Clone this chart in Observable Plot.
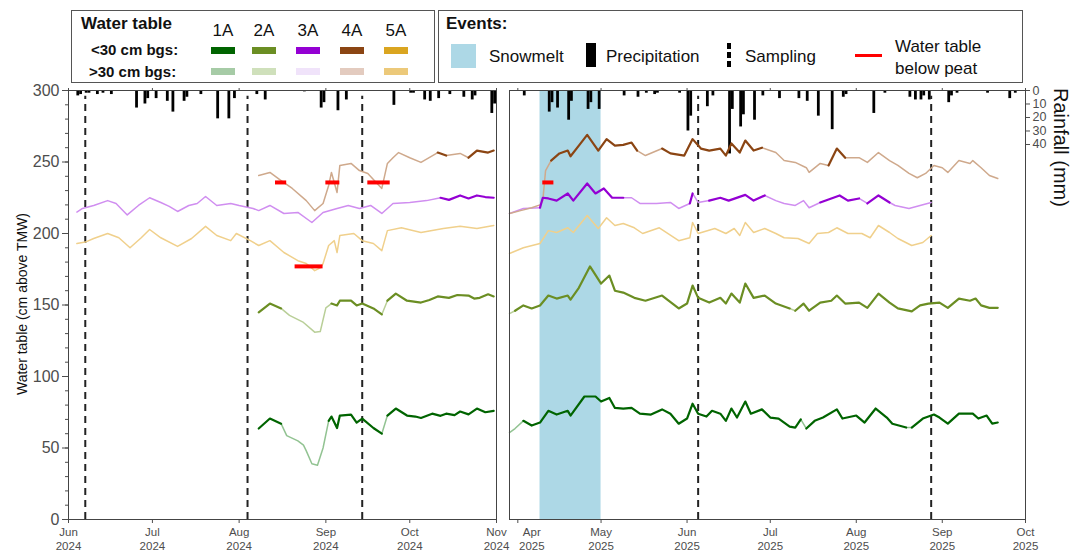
<!DOCTYPE html>
<html><head><meta charset="utf-8">
<script src="https://cdn.jsdelivr.net/npm/d3@7"></script>
<script src="https://cdn.jsdelivr.net/npm/@observablehq/plot@0.6"></script>
<style>
body{margin:0;width:1072px;height:553px;position:relative;background:#fff;overflow:hidden;font-family:"Liberation Sans",Arial,sans-serif;color:#111}
.a{position:absolute;white-space:nowrap;line-height:1}
.box{position:absolute;border:1.5px solid #555;box-sizing:border-box}
svg{overflow:visible}
.b{font-weight:bold}
</style></head><body>
<div class="box" style="left:71px;top:10px;width:364px;height:73px"></div>
<div class="a b" style="left:81px;top:15px;font-size:17px">Water table</div>
<div class="a b" style="left:91px;top:42px;font-size:15px">&lt;30 cm bgs:</div>
<div class="a b" style="left:89px;top:64px;font-size:15px">&gt;30 cm bgs:</div>
<div id="leg1"></div>
<div class="box" style="left:438px;top:10px;width:585px;height:73px"></div>
<div class="a b" style="left:446px;top:15px;font-size:17px">Events:</div>
<div class="a" style="left:451px;top:44px;width:25px;height:24px;background:#add8e6"></div>
<div class="a" style="left:489px;top:48px;font-size:17px">Snowmelt</div>
<div class="a" style="left:586px;top:43px;width:10px;height:24px;background:#000"></div>
<div class="a" style="left:606px;top:48px;font-size:17px">Precipitation</div>
<div class="a" style="left:727px;top:43px;width:4px;height:6px;background:#000"></div>
<div class="a" style="left:727px;top:52px;width:4px;height:6px;background:#000"></div>
<div class="a" style="left:727px;top:61px;width:4px;height:6px;background:#000"></div>
<div class="a" style="left:745px;top:48px;font-size:17px">Sampling</div>
<div class="a" style="left:855px;top:54px;width:27px;height:3px;background:#f00"></div>
<div class="a" style="left:895px;top:38px;font-size:17px">Water table</div>
<div class="a" style="left:895px;top:60px;font-size:17px">below peat</div>
<div class="a" style="left:22px;top:304px;font-size:14px;transform:translate(-50%,-50%) rotate(-90deg)">Water table (cm above TMW)</div>
<div class="a" style="left:1051px;top:88px;font-size:20px;writing-mode:vertical-rl">Rainfall (mm)</div>
<div id="left" class="a" style="left:0;top:84px"></div>
<div id="right" class="a" style="left:500px;top:84px"></div>
<script>
// ---------- data ----------
const sites = ["1A","2A","3A","4A","5A"];
const months2024 = ["2024-06-01","2024-07-01","2024-08-01","2024-09-01","2024-10-01","2024-11-01"];
const months2025 = ["2025-04-01","2025-05-01","2025-06-01","2025-07-01","2025-08-01","2025-09-01","2025-10-01"];
const yTicks = [0,50,100,150,200,250,300];
const rainTicks = [0,10,20,30,40];
const sampling2024 = ["2024-06-07","2024-08-04","2024-09-14"];
const sampling2025 = ["2025-06-05","2025-08-28"];
const snowmelt2025 = [["2025-04-09","2025-05-01"]];
const belowPeat2024 = [["2024-08-14","2024-08-18",235.7],["2024-09-01","2024-09-06",235.7],["2024-09-16","2024-09-24",235.7],["2024-08-21","2024-08-31",177]];
const belowPeat2025 = [["2025-04-10","2025-04-14",235.7]];

const rain2024 = [["2024-06-04",4],["2024-06-05",3],["2024-06-07",2],["2024-06-08",2],["2024-06-11",3],["2024-06-13",2],["2024-06-16",3],["2024-06-25",13],["2024-06-28",10],["2024-06-29",6],["2024-07-02",6],["2024-07-06",8],["2024-07-08",16],["2024-07-12",8],["2024-07-13",5],["2024-07-18",3],["2024-07-24",21],["2024-07-28",21],["2024-07-30",6],["2024-08-07",3],["2024-08-10",7],["2024-08-24",1],["2024-08-30",13],["2024-08-31",9],["2024-09-05",15],["2024-09-08",7],["2024-09-25",11],["2024-10-01",2],["2024-10-02",2],["2024-10-06",7],["2024-10-08",8],["2024-10-11",6],["2024-10-15",3],["2024-10-20",5],["2024-10-23",7],["2024-10-24",4],["2024-10-30",17],["2024-10-31",10]];
const rain2025 = [["2025-04-03",4],["2025-04-12",16],["2025-04-13",9],["2025-04-15",13],["2025-04-19",22],["2025-04-20",8],["2025-04-26",14],["2025-04-27",9],["2025-04-30",14],["2025-05-09",4],["2025-05-14",5],["2025-05-17",2],["2025-05-20",3],["2025-05-21",2],["2025-05-29",2],["2025-06-01",30],["2025-06-02",19],["2025-06-08",12],["2025-06-10",4],["2025-06-16",47],["2025-06-17",14],["2025-06-20",27],["2025-06-21",18],["2025-06-25",22],["2025-06-28",4],["2025-07-04",6],["2025-07-11",6],["2025-07-14",8],["2025-07-18",19],["2025-07-23",29],["2025-07-27",5],["2025-07-28",3],["2025-08-07",17],["2025-08-11",2],["2025-08-20",5],["2025-08-22",7],["2025-08-24",7],["2025-08-25",4],["2025-08-27",7],["2025-09-03",9],["2025-09-04",4],["2025-09-06",2],["2025-09-17",2],["2025-09-25",6],["2025-09-27",2]];

const wt2024_1A = [["2024-08-08",63.6],["2024-08-12",70.6],["2024-08-16",67],["2024-08-18",58.7],["2024-08-22",55],["2024-08-24",52],["2024-08-25",48],["2024-08-27",39],["2024-08-29",38],["2024-08-31",50],["2024-09-02",69],["2024-09-03",72],["2024-09-05",64],["2024-09-06",72.7],["2024-09-10",73.4],["2024-09-12",67.8],["2024-09-14",70.6],["2024-09-18",64],["2024-09-21",60],["2024-09-23",72.7],["2024-09-26",77.6],["2024-09-30",72.7],["2024-10-03",72],["2024-10-05",71],["2024-10-09",74],["2024-10-12",72.5],["2024-10-14",74],["2024-10-17",73],["2024-10-19",75.5],["2024-10-22",73.5],["2024-10-25",77.6],["2024-10-28",75],["2024-10-31",76]];
const wt2024_2A = [["2024-08-08",144.8],["2024-08-12",151],["2024-08-16",147.6],["2024-08-19",142.7],["2024-08-24",137.8],["2024-08-28",131],["2024-08-30",131.5],["2024-09-01",148],["2024-09-03",151],["2024-09-05",149.7],["2024-09-06",153],["2024-09-10",153],["2024-09-12",149.7],["2024-09-14",151],["2024-09-18",147.6],["2024-09-21",143.4],["2024-09-23",153],["2024-09-26",158],["2024-09-30",153],["2024-10-05",151.7],["2024-10-08",153.5],["2024-10-11",156],["2024-10-15",155],["2024-10-18",157],["2024-10-22",156.6],["2024-10-24",154.5],["2024-10-26",155],["2024-10-29",157.5],["2024-10-31",156]];
const wt2024_3A = [["2024-06-04",215],["2024-06-06",217.5],["2024-06-10",219.6],["2024-06-15",223],["2024-06-18",221],["2024-06-22",213],["2024-06-26",219.6],["2024-06-30",225],["2024-07-04",221.7],["2024-07-07",219],["2024-07-10",215.4],["2024-07-14",219.6],["2024-07-17",221],["2024-07-20",225.9],["2024-07-24",219.6],["2024-07-29",221],["2024-08-01",219.6],["2024-08-06",217.5],["2024-08-08",216],["2024-08-12",219.6],["2024-08-17",214],["2024-08-22",214.7],["2024-08-27",207.7],["2024-08-31",214.7],["2024-09-05",217.5],["2024-09-09",219.6],["2024-09-13",217.5],["2024-09-17",219.6],["2024-09-21",214],["2024-09-25",221],["2024-10-01",221.7],["2024-10-07",223],["2024-10-12",225],["2024-10-15",223.5],["2024-10-19",226.6],["2024-10-22",224.5],["2024-10-25",226.6],["2024-10-28",225.5],["2024-10-31",225]];
const wt2024_4A = [["2024-08-08",240.6],["2024-08-12",242.7],["2024-08-16",237],["2024-08-20",231.5],["2024-08-25",223],["2024-08-28",216],["2024-08-31",221],["2024-09-02",233.6],["2024-09-03",242.7],["2024-09-05",228.7],["2024-09-06",247.6],["2024-09-10",249],["2024-09-13",244],["2024-09-16",242],["2024-09-19",235.7],["2024-09-21",231.5],["2024-09-23",249],["2024-09-25",253],["2024-09-27",256.6],["2024-10-01",253],["2024-10-05",249.7],["2024-10-11",256.6],["2024-10-14",254.5],["2024-10-19",256],["2024-10-22",253],["2024-10-25",258],["2024-10-29",256.6],["2024-10-31",258]];
const wt2024_5A = [["2024-06-04",193],["2024-06-07",194],["2024-06-10",196.5],["2024-06-15",200],["2024-06-19",197],["2024-06-23",190],["2024-06-27",197],["2024-06-30",202.8],["2024-07-04",197],["2024-07-10",191],["2024-07-15",196.5],["2024-07-20",205],["2024-07-24",198.6],["2024-07-29",195],["2024-07-31",200],["2024-08-05",195],["2024-08-08",191.6],["2024-08-12",195],["2024-08-17",186.7],["2024-08-22",181],["2024-08-25",179],["2024-08-28",174],["2024-08-30",176],["2024-08-31",179],["2024-09-02",191.6],["2024-09-04",195],["2024-09-05",186.7],["2024-09-06",198.6],["2024-09-11",200],["2024-09-14",195],["2024-09-18",193],["2024-09-21",188],["2024-09-23",202],["2024-09-28",204],["2024-10-05",200.7],["2024-10-13",203.5],["2024-10-19",205],["2024-10-25",203.5],["2024-10-31",205.6]];

const wt2025_1A = [["2025-03-29",60.8],["2025-03-31",63.6],["2025-04-03",69],["2025-04-06",65.7],["2025-04-09",67.8],["2025-04-12",76],["2025-04-15",73.4],["2025-04-19",76],["2025-04-20",72.7],["2025-04-25",86],["2025-04-29",86],["2025-05-01",82.5],["2025-05-04",85],["2025-05-06",78],["2025-05-09",77.6],["2025-05-12",78],["2025-05-15",74],["2025-05-19",73.4],["2025-05-23",77],["2025-05-26",74],["2025-05-29",67],["2025-06-01",70.6],["2025-06-03",81],["2025-06-05",74],["2025-06-08",72],["2025-06-10",76],["2025-06-13",74],["2025-06-15",69],["2025-06-17",77.6],["2025-06-19",71.3],["2025-06-22",82.5],["2025-06-24",74],["2025-06-28",77],["2025-07-01",71.3],["2025-07-04",70.6],["2025-07-08",65],["2025-07-10",64.3],["2025-07-12",70],["2025-07-14",63.6],["2025-07-17",69],["2025-07-20",71.3],["2025-07-25",77],["2025-07-27",70.6],["2025-08-01",72.7],["2025-08-04",67.8],["2025-08-08",77.6],["2025-08-12",71.3],["2025-08-14",67],["2025-08-19",64.3],["2025-08-21",64.3],["2025-08-25",70.6],["2025-08-29",73.4],["2025-08-31",71.3],["2025-09-03",67],["2025-09-07",74],["2025-09-09",74],["2025-09-12",74],["2025-09-14",70.6],["2025-09-17",72.7],["2025-09-19",67],["2025-09-21",67.8]];
const wt2025_2A = [["2025-03-29",144],["2025-03-31",146],["2025-04-03",149.7],["2025-04-06",147.6],["2025-04-09",149.7],["2025-04-12",156.6],["2025-04-15",154.5],["2025-04-19",156.6],["2025-04-20",153.8],["2025-04-23",162],["2025-04-27",177],["2025-04-28",174],["2025-05-01",165],["2025-05-04",170.6],["2025-05-06",160],["2025-05-09",158.7],["2025-05-13",155],["2025-05-17",153],["2025-05-23",156.6],["2025-05-29",147.6],["2025-06-01",151],["2025-06-03",163.6],["2025-06-05",155],["2025-06-09",151.7],["2025-06-13",155],["2025-06-15",151],["2025-06-17",158],["2025-06-20",151.7],["2025-06-22",165],["2025-06-25",155],["2025-06-29",156.6],["2025-07-03",151],["2025-07-08",147.6],["2025-07-10",146],["2025-07-13",151],["2025-07-15",146],["2025-07-19",151.7],["2025-07-23",153],["2025-07-25",156.6],["2025-07-28",151],["2025-08-02",151.7],["2025-08-05",148],["2025-08-09",158],["2025-08-13",151.7],["2025-08-16",147.6],["2025-08-21",145.5],["2025-08-24",149.7],["2025-08-27",151],["2025-08-31",151.7],["2025-09-03",148],["2025-09-07",154.5],["2025-09-11",153],["2025-09-13",154.5],["2025-09-15",149.7],["2025-09-18",148],["2025-09-21",148]];
const wt2025_3A = [["2025-03-29",214],["2025-04-03",217.5],["2025-04-09",218],["2025-04-10",225],["2025-04-12",224.5],["2025-04-15",223],["2025-04-19",228],["2025-04-21",223],["2025-04-26",235],["2025-04-29",228],["2025-05-02",231.5],["2025-05-05",225],["2025-05-09",225],["2025-05-12",225],["2025-05-15",221],["2025-05-21",221],["2025-05-26",221.7],["2025-05-29",217.5],["2025-06-02",221],["2025-06-03",228],["2025-06-05",221.7],["2025-06-09",223],["2025-06-13",225],["2025-06-16",223],["2025-06-22",227],["2025-06-25",223],["2025-06-29",226.6],["2025-07-03",223],["2025-07-06",221],["2025-07-10",219.6],["2025-07-13",223],["2025-07-15",218],["2025-07-19",221.7],["2025-07-23",224.5],["2025-07-26",226.6],["2025-07-29",223],["2025-08-02",224.5],["2025-08-05",221],["2025-08-09",226.6],["2025-08-13",221.7],["2025-08-15",219.6],["2025-08-20",217.5],["2025-08-24",219.6],["2025-08-28",221.7]];
const wt2025_4A = [["2025-03-29",214],["2025-04-02",216],["2025-04-06",218],["2025-04-09",220],["2025-04-10",223],["2025-04-11",244],["2025-04-13",251],["2025-04-16",256],["2025-04-19",258],["2025-04-20",254],["2025-04-23",261.5],["2025-04-26",269],["2025-04-30",258],["2025-05-03",266],["2025-05-06",261.5],["2025-05-09",262],["2025-05-12",263.6],["2025-05-14",258],["2025-05-17",254.5],["2025-05-23",259.4],["2025-05-26",256],["2025-05-31",254.5],["2025-06-03",266],["2025-06-06",259.4],["2025-06-09",258],["2025-06-13",259.4],["2025-06-15",254.5],["2025-06-17",263],["2025-06-20",256.6],["2025-06-22",265],["2025-06-25",258],["2025-06-28",260],["2025-07-03",256.6],["2025-07-06",251],["2025-07-10",249.7],["2025-07-14",246],["2025-07-15",242.7],["2025-07-19",249],["2025-07-22",247.6],["2025-07-25",259.4],["2025-07-28",253],["2025-08-02",253],["2025-08-05",249.7],["2025-08-09",256.6],["2025-08-13",251],["2025-08-16",247.6],["2025-08-20",242],["2025-08-23",239],["2025-08-26",242],["2025-08-29",247.6],["2025-09-01",246],["2025-09-03",242.7],["2025-09-07",251],["2025-09-11",249],["2025-09-12",251],["2025-09-15",246],["2025-09-18",240.6],["2025-09-21",238.5]];
const wt2025_5A = [["2025-03-29",186],["2025-04-03",190],["2025-04-09",193],["2025-04-12",202],["2025-04-15",200.7],["2025-04-19",204],["2025-04-21",200.7],["2025-04-26",212.6],["2025-04-30",203.5],["2025-05-03",211],["2025-05-06",205.6],["2025-05-09",207],["2025-05-13",204],["2025-05-16",200],["2025-05-22",204],["2025-05-29",195],["2025-06-02",197],["2025-06-03",207.7],["2025-06-05",200],["2025-06-11",203.5],["2025-06-15",200],["2025-06-18",203.5],["2025-06-20",198.6],["2025-06-22",207.7],["2025-06-25",200.7],["2025-06-29",203.5],["2025-07-03",200],["2025-07-06",197],["2025-07-11",196.5],["2025-07-15",193],["2025-07-18",200],["2025-07-22",200.7],["2025-07-25",204],["2025-07-29",200],["2025-08-03",200],["2025-08-06",197],["2025-08-09",205.6],["2025-08-13",200.7],["2025-08-16",196.5],["2025-08-21",191.6],["2025-08-25",193.7],["2025-08-28",198.6]];

// periods with water table >30 cm below ground surface (pale colour)
const deep2024_1A = [["2024-08-17","2024-09-02"],["2024-09-20","2024-09-23"]];
const deep2024_2A = [["2024-08-17","2024-09-02"],["2024-09-20","2024-09-23"]];
const deep2024_3A = [["2024-06-01","2024-06-29"],["2024-07-02","2024-07-19"],["2024-07-21","2024-10-10"]];
const deep2024_4A = [["2024-08-01","2024-10-10"],["2024-10-15","2024-10-22"]];
const deep2024_5A = [["2024-06-01","2024-11-01"]];
const deep2025_1A = [["2025-03-28","2025-04-02"],["2025-07-13","2025-07-15"],["2025-08-18","2025-08-22"]];
const deep2025_2A = [["2025-03-28","2025-04-01"],["2025-07-09","2025-07-11"],["2025-08-19","2025-08-22"]];
const deep2025_3A = [["2025-03-28","2025-04-09"],["2025-05-08","2025-06-02"],["2025-06-04","2025-06-09"],["2025-07-01","2025-07-20"],["2025-08-01","2025-08-06"],["2025-08-12","2025-09-01"]];
const deep2025_4A = [["2025-03-28","2025-04-12"],["2025-05-14","2025-05-20"],["2025-06-30","2025-07-23"],["2025-07-27","2025-08-07"],["2025-08-11","2025-10-01"]];
const deep2025_5A = [["2025-03-28","2025-10-01"]];

// ---------- styles ----------
const darkColor = {"1A":"#006400","2A":"#6b8e23","3A":"#9400d3","4A":"#8b4513","5A":"#daa520"};
const lightColor = {"1A":"#92c392","2A":"#b9cf98","3A":"#d08ef0","4A":"#cfa98c","5A":"#f0d08c"};
const legendLight = {"1A":"#a6cba6","2A":"#cfe0bb","3A":"#f0e3fa","4A":"#e3cbbf","5A":"#ecc97a"};
const MM = 0.944; // rainfall mm -> water-table axis units (secondary axis hanging from top)

// legend swatches
const legX = {"1A":211,"2A":252,"3A":296,"4A":340,"5A":384};
const leg = document.getElementById("leg1");
for (const s of sites) {
  leg.insertAdjacentHTML("beforeend",
    `<div class="a" style="left:${legX[s]-2}px;top:22px;width:28px;text-align:center;font-size:17px">${s}</div>`+
    `<div class="a" style="left:${legX[s]}px;top:47px;width:24px;height:7px;background:${darkColor[s]}"></div>`+
    `<div class="a" style="left:${legX[s]}px;top:68px;width:24px;height:7px;background:${legendLight[s]}"></div>`);
}

const parse = s => new Date(s + "T00:00:00Z");
function runs(points, deep, site, tag) {
  const pts = points.map(([d, v]) => ({date: parse(d), value: v}));
  const iv = deep.map(([a, b]) => [parse(a), parse(b)]);
  const isDeep = t => iv.some(([a, b]) => t >= a && t <= b);
  const out = []; let cur = null, k = 0;
  for (let i = 0; i < pts.length - 1; i++) {
    const s = isDeep(new Date((+pts[i].date + +pts[i + 1].date) / 2));
    if (s !== cur) { cur = s; k++; out.push({...pts[i], run: `${tag}${site}-${k}`, deep: s, site}); }
    out.push({...pts[i + 1], run: `${tag}${site}-${k}`, deep: s, site});
  }
  return out;
}
const rows2024 = [
  ...runs(wt2024_1A, deep2024_1A, "1A", "a"), ...runs(wt2024_2A, deep2024_2A, "2A", "a"),
  ...runs(wt2024_3A, deep2024_3A, "3A", "a"), ...runs(wt2024_4A, deep2024_4A, "4A", "a"),
  ...runs(wt2024_5A, deep2024_5A, "5A", "a")];
const rows2025 = [
  ...runs(wt2025_1A, deep2025_1A, "1A", "b"), ...runs(wt2025_2A, deep2025_2A, "2A", "b"),
  ...runs(wt2025_3A, deep2025_3A, "3A", "b"), ...runs(wt2025_4A, deep2025_4A, "4A", "b"),
  ...runs(wt2025_5A, deep2025_5A, "5A", "b")];

const fmtMonth = d => `${d3.utcFormat("%b")(d)}\n${d3.utcFormat("%Y")(d)}`;
const common = {
  height: 469, marginTop: 6, marginBottom: 34,
  style: {fontFamily: "'Liberation Sans', Arial, sans-serif", fontSize: "12px", color: "#4d4d4d", background: "transparent", overflow: "visible"},
  y: {domain: [0, 300], label: null},
  color: {type: "identity"}
};
function seriesMarks(rows) {
  return [
    Plot.line(rows.filter(r => r.deep), {x: "date", y: "value", z: "run", stroke: r => lightColor[r.site], strokeWidth: 1.5}),
    Plot.line(rows.filter(r => !r.deep), {x: "date", y: "value", z: "run", stroke: r => darkColor[r.site], strokeWidth: 2.2})
  ];
}
function rainMarks(rain) {
  return Plot.rect(rain, {x1: d => parse(d[0]), x2: d => d3.utcDay.offset(parse(d[0]), 1), y1: 300, y2: d => 300 - d[1] * MM, fill: "black"});
}

const left = Plot.plot({
  ...common, width: 500, marginLeft: 68, marginRight: 4,
  x: {type: "utc", domain: [parse("2024-06-01"), parse("2024-11-01")], label: null},
  marks: [
    rainMarks(rain2024),
    Plot.ruleX(sampling2024, {x: d => parse(d), y1: 0, y2: 296, stroke: "#222", strokeWidth: 2, strokeDasharray: "7,5"}),
    ...seriesMarks(rows2024),
    Plot.ruleY(belowPeat2024, {x1: d => parse(d[0]), x2: d => parse(d[1]), y: d => d[2], stroke: "#f00", strokeWidth: 4}),
    Plot.axisY({ticks: d3.range(0, 301, 10), tickSize: 3, tickFormat: () => "", label: null}),
    Plot.axisY({ticks: yTicks, tickSize: 6, tickPadding: 3, fontSize: 16, label: null}),
    Plot.axisX({anchor: "bottom", ticks: months2024.map(parse), tickFormat: fmtMonth, tickSize: 4, tickPadding: 2, fontSize: 11.5, lineHeight: 1.25, label: null}),
    Plot.axisX({anchor: "top", ticks: months2024.map(parse), tickFormat: () => "", tickSize: 3, label: null}),
    Plot.frame({stroke: "#444"})
  ]
});
document.getElementById("left").append(left);

const right = Plot.plot({
  ...common, width: 572, marginLeft: 9, marginRight: 47,
  x: {type: "utc", domain: [parse("2025-03-29"), parse("2025-10-01")], label: null},
  marks: [
    Plot.rect(snowmelt2025, {x1: d => parse(d[0]), x2: d => parse(d[1]), y1: 0, y2: 300, fill: "#add8e6"}),
    rainMarks(rain2025),
    Plot.ruleX(sampling2025, {x: d => parse(d), y1: 0, y2: 296, stroke: "#222", strokeWidth: 2, strokeDasharray: "7,5"}),
    ...seriesMarks(rows2025),
    Plot.ruleY(belowPeat2025, {x1: d => parse(d[0]), x2: d => parse(d[1]), y: d => d[2], stroke: "#f00", strokeWidth: 4}),
    Plot.axisY({anchor: "right", ticks: rainTicks.map(t => 300 - t * MM), tickFormat: v => String(Math.round((300 - v) / MM)), tickSize: 4, tickPadding: 3, fontSize: 12.5, label: null}),
    Plot.axisX({anchor: "bottom", ticks: months2025.slice(1).map(parse), tickFormat: fmtMonth, tickSize: 4, tickPadding: 2, fontSize: 11.5, lineHeight: 1.25, label: null}),
    Plot.axisX({anchor: "bottom", ticks: [parse(months2025[0])], tickFormat: () => "", tickSize: 4, label: null}),
    Plot.text([parse(months2025[0])], {x: d => d, frameAnchor: "bottom", dy: 6, dx: 14, lineAnchor: "top", lineHeight: 1.25, fontSize: 11.5, fill: "#4d4d4d", text: d => fmtMonth(d)}),
    Plot.axisX({anchor: "top", ticks: months2025.map(parse), tickFormat: () => "", tickSize: 3, label: null}),
    Plot.frame({stroke: "#444"})
  ]
});
document.getElementById("right").append(right);
</script>
</body></html>
